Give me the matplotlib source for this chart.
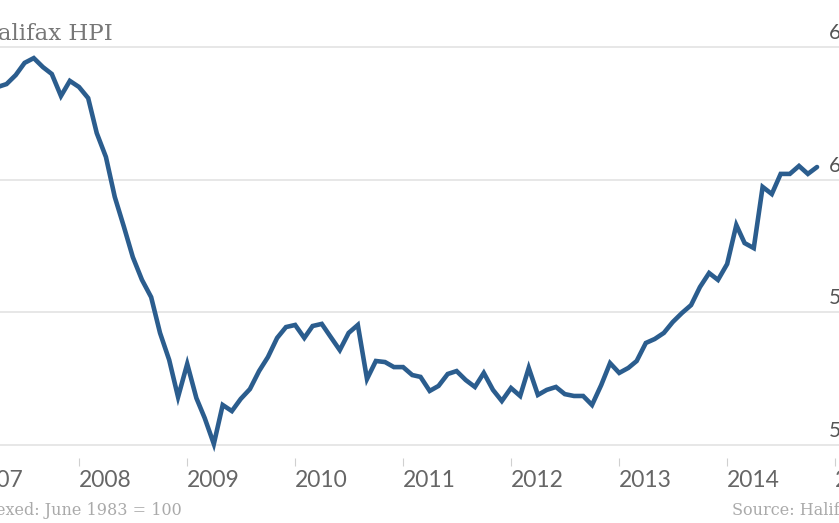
import matplotlib
matplotlib.use('Agg')
import matplotlib.pyplot as plt
import matplotlib.dates as mdates
import matplotlib.transforms as mtransforms
import pandas as pd
from datetime import datetime

out_file = 'out.png'

# Halifax house price index, monthly, April 2007 - November 2014 (June 1983 = 100)
start_month = '2007-04-01'
hpi_values = [
    635.1, 636.2, 639.6, 644.2, 646.0, 642.6, 640.0, 631.7, 637.4,          # 2007 Apr-Dec
    635.1, 630.9, 617.7, 608.7, 593.6, 582.3, 570.9, 562.3, 555.8, 542.3, 532.1, 518.1,  # 2008
    530.6, 517.7, 510.2, 500.4, 515.1, 512.8, 517.4, 521.1, 527.9, 533.2, 540.4, 544.5,  # 2009
    545.3, 540.4, 544.9, 545.7, 540.8, 535.8, 542.3, 545.3, 524.9, 531.7, 531.3, 529.4,  # 2010
    529.4, 526.4, 525.7, 520.4, 522.3, 526.8, 527.9, 524.5, 521.9, 527.2, 520.8, 516.6,  # 2011
    521.5, 518.5, 529.1, 518.9, 520.8, 521.9, 519.2, 518.5, 518.5, 515.1, 522.6, 530.9,  # 2012
    527.2, 529.1, 531.7, 538.5, 540.0, 542.3, 546.4, 549.8, 552.8, 559.6, 564.9, 562.3,  # 2013
    568.3, 583.0, 576.2, 574.3, 597.4, 594.7, 602.3, 602.3, 605.3, 602.3, 604.9,         # 2014 Jan-Nov
]
y_ticks = [500, 550, 600, 650]
y_tick_labels = ['500', '550', '600', '650']

title_text = 'Halifax HPI'
note_text = 'Indexed: June 1983 = 100'
source_text = 'Source: Halifax'

line_color = '#2b5d8e'
grid_color = '#e3e3e3'

if __name__ == '__main__':
    dates = pd.date_range(start_month, periods=len(hpi_values), freq='MS')

    W, H = 839, 523
    fig = plt.figure(figsize=(W / 100, H / 100), dpi=100)
    # the reference is a crop of a wider chart, so the axes run past the left edge
    ax_left_px = -40
    ax = fig.add_axes([ax_left_px / W, 78 / H, (W - ax_left_px) / W, 397.5 / H])

    ax.plot(dates, hpi_values, color=line_color, linewidth=3.3,
            solid_joinstyle='miter', solid_capstyle='round', clip_on=False, zorder=3)

    # x scale: 108 px per year, 1 Jan 2008 at x = 79 px
    px_per_day = 108 / 365.25
    x2008 = mdates.date2num(datetime(2008, 1, 1))
    ax.set_xlim(x2008 - (79 - ax_left_px) / px_per_day, x2008 + (W - 79) / px_per_day)
    ax.set_ylim(y_ticks[0], y_ticks[-1])

    ax.xaxis.set_major_locator(mdates.YearLocator())
    ax.xaxis.set_major_formatter(mdates.DateFormatter('%Y'))
    ax.spines['bottom'].set_position(('outward', 9.4))
    for s in ax.spines.values():
        s.set_visible(False)
    ax.tick_params(axis='x', direction='out', length=5.8, width=0.8, color='#d0d0d0',
                   pad=2.6, labelsize=16.5, labelcolor='#666666')
    for lbl in ax.get_xticklabels():
        lbl.set_horizontalalignment('left')
        lbl.set_family('Lato')

    ax.set_yticks(y_ticks)
    ax.tick_params(axis='y', length=0, labelleft=False, labelright=False)
    ax.grid(axis='y', color=grid_color, linewidth=1.2)
    for gl in ax.get_ygridlines():
        gl.set_clip_on(False)
    ax.set_axisbelow(True)

    # y labels sit on the right, just above each gridline
    ytrans = mtransforms.offset_copy(ax.get_yaxis_transform(), fig=fig, y=5.8, units='points')
    lab_x = (829 - ax_left_px) / (W - ax_left_px)
    for val, lab in zip(y_ticks, y_tick_labels):
        ax.text(lab_x, val, lab, transform=ytrans, ha='left', va='baseline',
                fontsize=15, color='#555555', family='Lato')

    fig.text(113 / W, 1 - 40 / H, title_text, ha='right', va='baseline',
             fontsize=16.5, color='#777777', family='DejaVu Serif')
    fig.text(-31 / W, 1 - 515 / H, note_text, ha='left', va='baseline',
             fontsize=11.5, color='#aaaaaa', family='DejaVu Serif')
    fig.text(732 / W, 1 - 515 / H, source_text, ha='left', va='baseline',
             fontsize=11.5, color='#aaaaaa', family='DejaVu Serif')

    fig.savefig(out_file, dpi=100)
